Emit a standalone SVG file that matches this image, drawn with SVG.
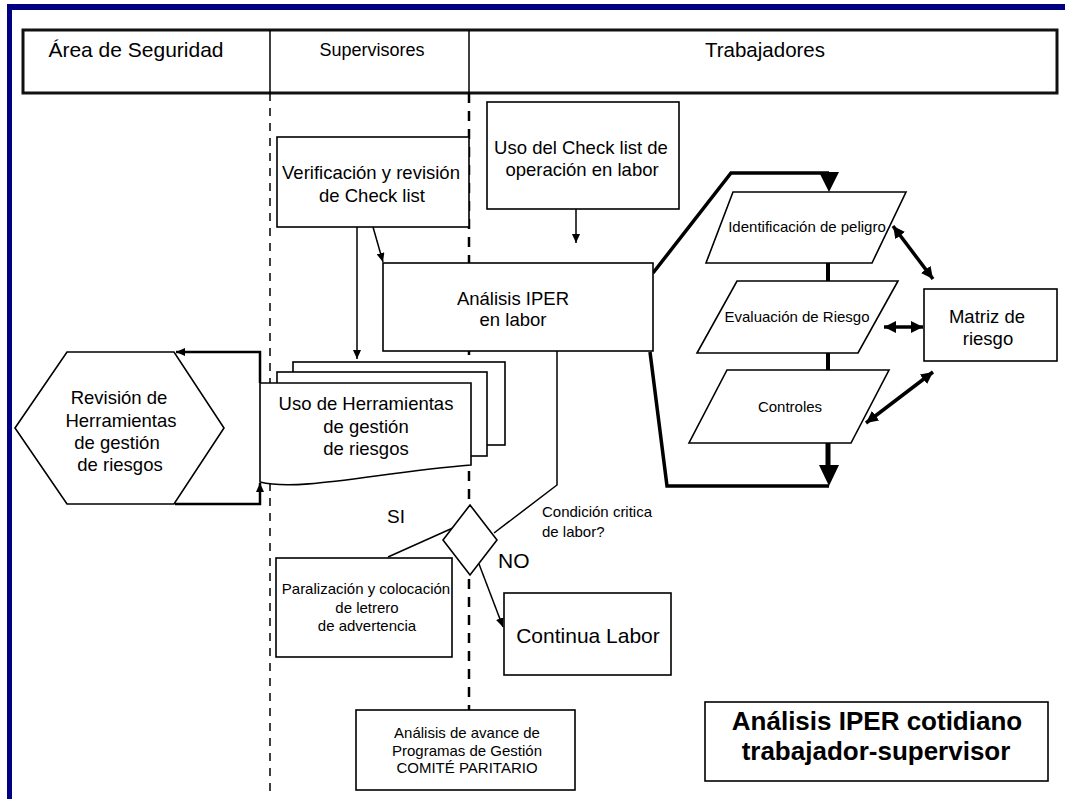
<svg xmlns="http://www.w3.org/2000/svg" width="1065" height="799" viewBox="0 0 1065 799">
  <defs>
    <style>
      text { font-family: "Liberation Sans", Arial, sans-serif; fill: #000; }
      .c { text-anchor: middle; }
      .box { fill: #fff; stroke: #000; stroke-width: 1.6; }
      .thin { fill: none; stroke: #000; stroke-width: 1.5; }
      .bold { fill: none; stroke: #000; stroke-width: 2.5; }
      .heavy { fill: none; stroke: #000; stroke-width: 3.5; }
      .lane { fill: none; stroke: #000; }
      .f18 { font-size: 18.5px; }
      .f15 { font-size: 15px; }
    </style>
    <marker id="arr" markerUnits="userSpaceOnUse" markerWidth="10" markerHeight="8" refX="9" refY="4" orient="auto">
      <path d="M0,0 L9,4 L0,8 Z" fill="#000"/>
    </marker>
    <marker id="dbl" markerUnits="userSpaceOnUse" markerWidth="13" markerHeight="12" refX="12" refY="6" orient="auto-start-reverse">
      <path d="M0,0 L12,6 L0,12 Z" fill="#000"/>
    </marker>
  </defs>

  <rect width="1065" height="799" fill="#fff"/>

  <!-- frame -->
  <rect x="7" y="4" width="1058" height="6" fill="#000080"/>
  <rect x="7" y="4" width="5" height="795" fill="#000080"/>

  <!-- lane header -->
  <g id="header">
    <rect x="23" y="30" width="1034" height="63" fill="#fff" stroke="#111" stroke-width="3"/>
    <line x1="270" y1="30" x2="270" y2="93" stroke="#000" stroke-width="1.5"/>
    <line x1="469" y1="30" x2="469" y2="93" stroke="#000" stroke-width="1.5"/>
    <text class="c" x="136" y="57" font-size="21">Área de Seguridad</text>
    <text class="c" x="372" y="56" font-size="18">Supervisores</text>
    <text class="c" x="765" y="57" font-size="20.5">Trabajadores</text>
  </g>

  <!-- lane separators -->
  <g id="lanes">
    <line class="lane" x1="270" y1="93" x2="270" y2="792" stroke-width="1.5" stroke-dasharray="8 7"/>
    <line class="lane" x1="469" y1="93" x2="469" y2="712" stroke-width="2.5" stroke-dasharray="10 8"/>
  </g>

  <!-- connectors -->
  <g id="connectors">
    <path class="thin" d="M576,209 L576,243" marker-end="url(#arr)"/>
    <path class="thin" d="M373,227 L383,262" marker-end="url(#arr)"/>
    <path class="thin" d="M357,227 L357,359" marker-end="url(#arr)"/>
    <path class="thin" d="M557,351 L557,485 L494,533"/>
    <path class="thin" d="M455,527 L388,557"/>
    <path class="thin" d="M479,564 L503,627" marker-end="url(#arr)"/>
    <path class="bold" d="M260,383 L260,352 L176,352" marker-end="url(#arr)"/>
    <path class="bold" d="M175,504 L260,504 L260,483" marker-end="url(#arr)"/>
    <!-- loop around the hazard steps -->
    <path class="heavy" d="M653,273 L731,173 L829,173"/>
    <polygon points="819,172 839,172 829,192" fill="#000"/>
    <path class="heavy" d="M650,352 L667,486 L829,486"/>
    <line x1="828" y1="263" x2="828" y2="281" stroke="#000" stroke-width="4"/>
    <line x1="828" y1="353" x2="828" y2="370" stroke="#000" stroke-width="4"/>
    <line x1="828" y1="443" x2="828" y2="468" stroke="#000" stroke-width="5"/>
    <polygon points="819,465 839,465 829,486" fill="#000"/>
    <!-- links to the risk matrix -->
    <path class="heavy" d="M893,226 L933,279" stroke-width="3" marker-start="url(#dbl)" marker-end="url(#dbl)"/>
    <path class="heavy" d="M884,327 L923,327" stroke-width="3" marker-start="url(#dbl)" marker-end="url(#dbl)"/>
    <path class="heavy" d="M933,372 L866,423" stroke-width="3" marker-start="url(#dbl)" marker-end="url(#dbl)"/>
    <text class="f15" x="542" y="517">Condición critica</text>
    <text class="f15" x="542" y="537">de labor?</text>
    <text x="387" y="523" font-size="19">SI</text>
    <text x="498" y="568" font-size="21">NO</text>
  </g>

  <g id="verificacion">
    <rect class="box" x="277" y="137" width="192" height="90"/>
    <text class="c f18" x="371" y="178.5">Verificación y revisión</text>
    <text class="c f18" x="372" y="201.5">de Check list</text>
  </g>

  <g id="checklist">
    <rect class="box" x="487" y="102" width="192" height="107"/>
    <text class="c f18" x="581" y="153.5">Uso del Check list de</text>
    <text class="c f18" x="582" y="175.5">operación en labor</text>
  </g>

  <g id="iper">
    <rect class="box" x="383" y="263" width="270" height="88"/>
    <text class="c f18" x="513" y="304.5">Análisis IPER</text>
    <text class="c f18" x="513" y="325.5">en labor</text>
  </g>

  <g id="herramientas">
    <rect class="box" x="293" y="362" width="212" height="83"/>
    <rect class="box" x="277" y="372" width="210" height="84"/>
    <path class="box" d="M260,383 H471 V465 C380,472 300,492 260,482 Z"/>
    <text class="c f18" x="366" y="409.5">Uso de Herramientas</text>
    <text class="c f18" x="366" y="432.5">de gestión</text>
    <text class="c f18" x="366" y="454.5">de riesgos</text>
  </g>

  <g id="revision">
    <polygon class="box" points="15,428 67,352 174,352 224,428 174,504 67,504" stroke="#333"/>
    <text class="c f18" x="119" y="403.5">Revisión de</text>
    <text class="c f18" x="121" y="426.5">Herramientas</text>
    <text class="c f18" x="117" y="448.5">de gestión</text>
    <text class="c f18" x="120" y="470.5">de riesgos</text>
  </g>

  <g id="identificacion">
    <polygon class="box" points="733,192 906,192 872,263 706,263" stroke="#333"/>
    <text class="c f15" x="807" y="232">Identificación de peligro</text>
  </g>

  <g id="evaluacion">
    <polygon class="box" points="737,281 898,281 858,353 697,353" stroke="#333"/>
    <text class="c f15" x="797" y="322">Evaluación de Riesgo</text>
  </g>

  <g id="controles">
    <polygon class="box" points="727,370 889,370 851,443 689,443" stroke="#333"/>
    <text class="c f15" x="790" y="411.5">Controles</text>
  </g>

  <g id="matriz">
    <rect class="box" x="924" y="289" width="133" height="72"/>
    <text class="c f18" x="987" y="322.5">Matriz de</text>
    <text class="c f18" x="988" y="344.5">riesgo</text>
  </g>

  <g id="decision">
    <polygon class="box" points="470,505 497,540 470,575 443,540" stroke="#333"/>
  </g>

  <g id="paralizacion">
    <rect class="box" x="276" y="558" width="176" height="99"/>
    <text class="c f15" x="366" y="594">Paralización y colocación</text>
    <text class="c f15" x="367" y="613">de letrero</text>
    <text class="c f15" x="367" y="631">de advertencia</text>
  </g>

  <g id="continua">
    <rect class="box" x="504" y="593" width="167" height="82"/>
    <text class="c" x="588" y="642.5" font-size="21">Continua Labor</text>
  </g>

  <g id="comite">
    <rect class="box" x="356" y="710" width="219" height="80"/>
    <text class="c f15" x="467" y="738">Análisis de avance de</text>
    <text class="c f15" x="467" y="755.5">Programas de Gestión</text>
    <text class="c f15" x="467" y="773">COMITÉ PARITARIO</text>
  </g>

  <g id="titulo">
    <rect class="box" x="705" y="702" width="343" height="79"/>
    <text class="c" x="877" y="730" font-size="26" font-weight="bold">Análisis IPER cotidiano</text>
    <text class="c" x="876" y="760" font-size="26" font-weight="bold">trabajador-supervisor</text>
  </g>
</svg>
